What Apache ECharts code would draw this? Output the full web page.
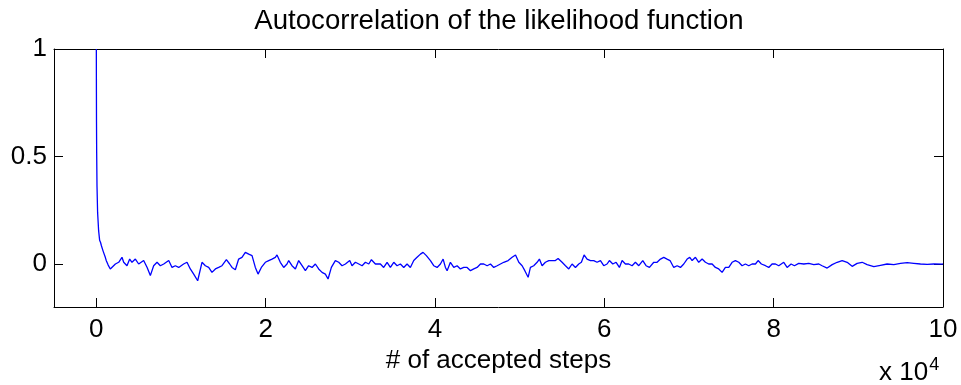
<!DOCTYPE html>
<html>
<head>
<meta charset="utf-8">
<script src="https://cdn.jsdelivr.net/npm/echarts@6/dist/echarts.min.js"></script>
<style>html,body{margin:0;padding:0;background:#fff}#c{width:961px;height:385px}</style>
</head>
<body>
<div id="c"></div>
<script>
// lag in units of 10^4 accepted steps
const lag = [0,0.001,0.002,0.004,0.008,0.015,0.027,0.039,0.05,0.06,0.08,0.106,0.118,0.14,0.165,0.185,0.225,0.264,0.303,0.323,0.362,0.394,0.421,0.461,0.5,0.559,0.6,0.638,0.677,0.717,0.756,0.796,0.855,0.894,0.933,0.973,1.031,1.071,1.11,1.15,1.197,1.248,1.288,1.327,1.366,1.406,1.445,1.484,1.536,1.575,1.603,1.642,1.681,1.72,1.76,1.8,1.839,1.878,1.91,1.949,1.996,2.036,2.075,2.114,2.134,2.173,2.213,2.252,2.272,2.311,2.351,2.39,2.43,2.469,2.508,2.548,2.587,2.626,2.666,2.705,2.737,2.776,2.823,2.863,2.902,2.942,2.993,3.02,3.06,3.1,3.139,3.178,3.218,3.249,3.296,3.355,3.394,3.434,3.473,3.513,3.552,3.591,3.631,3.67,3.709,3.749,3.788,3.828,3.859,3.898,3.946,3.985,4.025,4.064,4.096,4.123,4.143,4.182,4.222,4.261,4.3,4.34,4.379,4.419,4.458,4.497,4.537,4.576,4.616,4.655,4.694,4.734,4.773,4.812,4.864,4.911,4.951,4.99,5.029,5.061,5.1,5.127,5.166,5.206,5.233,5.265,5.304,5.344,5.383,5.422,5.454,5.501,5.541,5.58,5.619,5.659,5.698,5.729,5.761,5.796,5.836,5.875,5.914,5.954,5.993,6.032,6.06,6.1,6.139,6.178,6.21,6.249,6.288,6.328,6.367,6.407,6.454,6.493,6.533,6.584,6.623,6.663,6.702,6.741,6.776,6.82,6.86,6.899,6.938,6.978,7.009,7.037,7.076,7.115,7.155,7.194,7.233,7.273,7.312,7.351,7.391,7.43,7.47,7.509,7.548,7.588,7.627,7.666,7.706,7.745,7.785,7.816,7.855,7.903,7.942,7.981,8.021,8.06,8.119,8.159,8.206,8.245,8.296,8.356,8.415,8.474,8.533,8.572,8.632,8.691,8.75,8.809,8.868,8.927,8.986,9.045,9.104,9.183,9.262,9.34,9.419,9.498,9.577,9.655,9.734,9.813,9.892,9.99,10.0];
const acf = [1.0,0.80,0.66,0.52,0.36,0.24,0.155,0.11,0.10,0.085,0.06,0.031,0.015,-0.005,-0.023,-0.031,0.0,0.008,0.031,0.008,-0.008,0.023,0.008,0.023,0.0,0.016,-0.016,-0.054,-0.008,0.008,-0.008,0.0,0.016,-0.016,-0.008,-0.016,0.0,0.008,-0.023,-0.047,-0.078,0.008,-0.008,-0.016,-0.039,-0.023,-0.016,-0.008,0.02,0.0,-0.016,-0.027,0.023,0.031,0.054,0.046,0.039,-0.016,-0.047,-0.016,0.008,0.016,0.023,0.031,0.042,0.008,-0.016,0.0,0.016,-0.008,-0.023,0.016,-0.008,-0.031,-0.008,-0.016,0.0,-0.023,-0.039,-0.047,-0.070,-0.016,0.016,0.008,-0.008,0.0,0.016,-0.008,0.008,0.0,-0.008,0.008,0.0,0.020,0.0,0.0,-0.016,0.008,-0.016,0.008,-0.008,0.0,-0.016,0.0,-0.016,0.016,0.031,0.046,0.054,0.039,0.016,-0.008,-0.016,0.0,0.023,-0.016,-0.031,0.008,-0.016,-0.008,-0.023,-0.016,-0.016,-0.031,-0.023,-0.016,0.0,0.0,-0.008,0.0,-0.016,-0.008,0.0,0.008,0.016,0.031,0.042,0.008,-0.008,-0.031,-0.062,-0.016,-0.008,0.008,0.023,-0.008,0.008,0.016,0.016,0.016,0.026,0.008,-0.008,-0.023,0.0,-0.016,0.0,0.008,0.042,0.023,0.016,0.016,0.008,0.016,-0.008,0.0,0.016,0.0,0.008,-0.016,0.016,0.0,0.0,-0.008,0.008,-0.008,0.016,-0.008,-0.016,0.008,0.008,0.023,0.031,0.023,0.016,-0.016,-0.008,-0.016,0.0,0.023,0.031,0.016,0.031,0.008,0.023,0.008,0.0,0.0,-0.016,-0.023,-0.039,-0.016,-0.016,0.008,0.016,0.008,-0.008,0.0,-0.008,0.0,0.0,0.016,0.0,-0.008,-0.016,0.0,0.0,-0.008,0.008,-0.016,0.0,-0.008,0.003,0.0,0.003,-0.003,0.0,-0.008,-0.019,-0.003,0.008,0.016,0.008,-0.011,0.003,0.008,-0.003,-0.012,-0.006,0.0,-0.003,0.003,0.006,0.003,0.0,-0.002,0.0,-0.001,0.0];
const xTicks = [0, 2, 4, 6, 8, 10];
const yTicks = [0, 0.5, 1];
const titleText = 'Autocorrelation of the likelihood function';
const xLabel = '# of accepted steps';

const FONT = "'Liberation Sans', Arial, Helvetica, sans-serif";
const chart = echarts.init(document.getElementById('c'), null, {renderer: 'canvas'});
const axisLine = {show: true, onZero: false, lineStyle: {color: '#000', width: 1}};
function xAx(pos, labels) {
  return {
    type: 'value', position: pos, min: -0.5, max: 10,
    axisLine: axisLine,
    axisTick: {show: true, inside: true, length: 9, customValues: xTicks, lineStyle: {color: '#000'}},
    axisLabel: {show: labels, customValues: xTicks, margin: 10, color: '#000', fontSize: 26, fontFamily: FONT},
    splitLine: {show: false},
    name: labels ? xLabel : '', nameLocation: 'middle', nameGap: 40,
    nameTextStyle: {color: '#000', fontSize: 26, fontFamily: FONT}
  };
}
function yAx(pos, labels) {
  return {
    type: 'value', position: pos, min: -0.2, max: 1,
    axisLine: axisLine,
    axisTick: {show: true, inside: true, length: 9, customValues: yTicks, lineStyle: {color: '#000'}},
    axisLabel: {show: labels, customValues: yTicks, margin: 7, color: '#000', fontSize: 26, fontFamily: FONT},
    splitLine: {show: false}
  };
}
chart.setOption({
  animation: false,
  backgroundColor: '#fff',
  grid: {left: 54, right: 18, top: 49, bottom: 78, containLabel: false},
  xAxis: [xAx('bottom', true), xAx('top', false)],
  yAxis: [yAx('left', true), yAx('right', false)],
  graphic: [
    {type: 'text', x: 499, y: 7, style: {text: titleText, fontSize: 27.6, fontFamily: FONT, fill: '#000', align: 'center', textAlign: 'center', verticalAlign: 'top'}},
    {type: 'text', left: 879, top: 356, style: {text: '{a|x 10}{b|4}', fill: '#000', rich: {
      a: {fontSize: 26, fontFamily: FONT, fill: '#000', verticalAlign: 'bottom', lineHeight: 30},
      b: {fontSize: 18, fontFamily: FONT, fill: '#000', verticalAlign: 'top', lineHeight: 30, padding: [0,0,14,1]}
    }}}
  ],
  series: [{
    type: 'line', xAxisIndex: 0, yAxisIndex: 0,
    data: lag.map((x, i) => [x, acf[i]]),
    showSymbol: false, symbol: 'none',
    lineStyle: {color: '#0000ff', width: 1.3},
    clip: true
  }]
});
</script>
</body>
</html>
